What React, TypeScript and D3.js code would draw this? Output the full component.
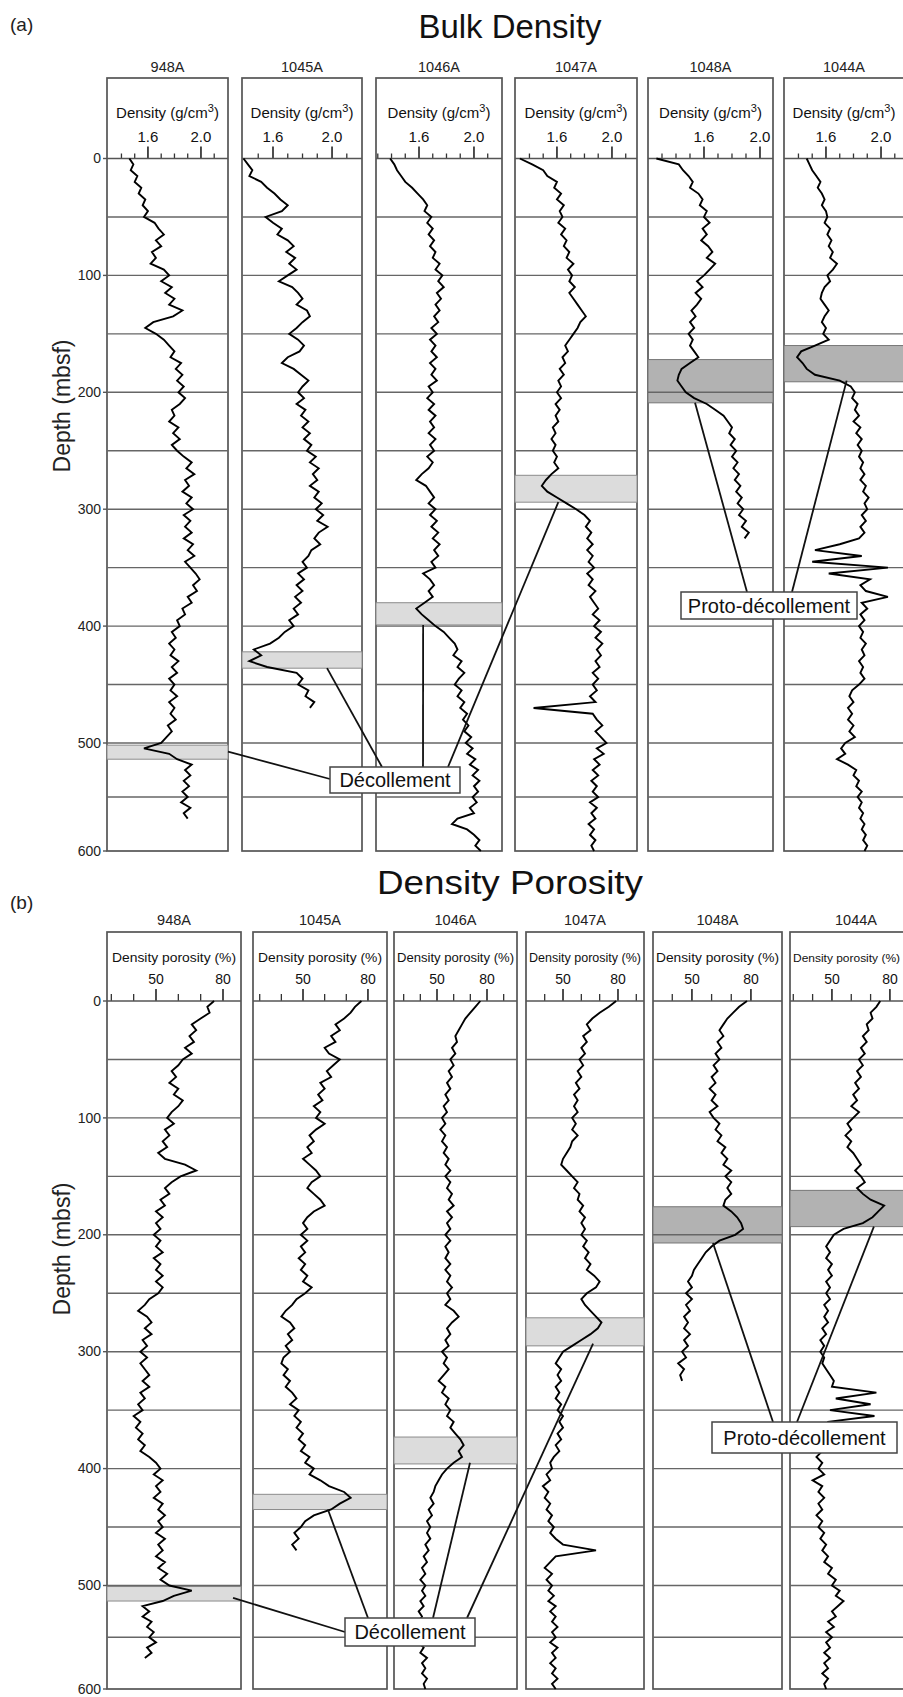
import React from 'react';
import * as d3 from 'd3';

const FONT = "'Liberation Sans', Arial, Helvetica, sans-serif";
const STEP = 5; // sampling interval of the digitised logs (m)
const VIEW_W = 903;

const STATIONS = ['948A', '1045A', '1046A', '1047A', '1048A', '1044A'];
const DEPTH_TICKS = [0, 100, 200, 300, 400, 500, 600];
const GRID_DEPTHS = [50, 100, 150, 200, 250, 300, 350, 400, 450, 500, 550];
const DEPTH_DOMAIN = [0, 500, 600];

const DENS_MAJOR = [1.6, 2.0];
const DENS_MINOR = [
  [1.4, 1.5, 1.7, 1.8, 1.9, 2.1],
  [1.5, 1.7, 1.8, 1.9, 2.1],
  [1.3, 1.4, 1.5, 1.7, 1.8, 1.9, 2.1],
  [1.4, 1.5, 1.7, 1.8, 1.9, 2.1],
  [1.3, 1.4, 1.5, 1.7, 1.8, 1.9],
  [1.4, 1.5, 1.7, 1.8, 1.9, 2.1],
];
const POR_MAJOR = [50, 80];
const POR_MINOR = [
  [30, 40, 60, 70],
  [30, 40, 60, 70],
  [30, 40, 60, 70, 90],
  [40, 60, 70, 90],
  [40, 60, 70],
  [30, 40, 60, 70],
];

// ---- Bulk density (g/cm3), one value every 5 m from 0 m ----
const DENS_948A = [
  1.46, 1.49, 1.47, 1.52, 1.50, 1.55, 1.53, 1.58, 1.56, 1.60,
  1.57, 1.65, 1.68, 1.72, 1.66, 1.70, 1.63, 1.66, 1.62, 1.72,
  1.76, 1.70, 1.78, 1.73, 1.80, 1.76, 1.86, 1.79, 1.64, 1.58,
  1.66, 1.72, 1.76, 1.80, 1.77, 1.85, 1.81, 1.86, 1.82, 1.87,
  1.83, 1.88, 1.84, 1.78, 1.80, 1.76, 1.83, 1.79, 1.84, 1.78,
  1.82, 1.87, 1.93, 1.89, 1.95, 1.88, 1.91, 1.86, 1.93, 1.89,
  1.94, 1.87, 1.92, 1.88, 1.93, 1.87, 1.94, 1.90, 1.95, 1.88,
  1.92, 1.96, 1.99, 1.94, 1.97, 1.90, 1.93, 1.86, 1.88, 1.82,
  1.84, 1.78, 1.81, 1.76, 1.80, 1.77, 1.83, 1.78, 1.82, 1.76,
  1.80, 1.77, 1.82, 1.76, 1.80, 1.77, 1.81, 1.75, 1.78, 1.74,
  1.70, 1.57, 1.76, 1.82, 1.93, 1.88, 1.92, 1.87, 1.91, 1.86,
  1.90, 1.85, 1.92, 1.87, 1.90,
];
const DENS_1045A = [
  1.40, 1.43, 1.46, 1.44, 1.52, 1.56, 1.61, 1.65, 1.70, 1.66,
  1.55, 1.60, 1.66, 1.63, 1.70, 1.74, 1.69, 1.75, 1.71, 1.76,
  1.70, 1.64, 1.73, 1.77, 1.80, 1.76, 1.83, 1.85, 1.80, 1.76,
  1.71, 1.77, 1.81, 1.78, 1.70, 1.66, 1.74, 1.79, 1.84, 1.80,
  1.77, 1.81, 1.76, 1.82, 1.79, 1.84, 1.80, 1.85, 1.81, 1.86,
  1.83, 1.89, 1.85, 1.91, 1.87, 1.90, 1.85, 1.91, 1.88, 1.93,
  1.89, 1.94, 1.90, 1.97, 1.91, 1.88, 1.92, 1.86, 1.84, 1.80,
  1.83, 1.77, 1.81, 1.76, 1.80, 1.75, 1.79, 1.74, 1.77, 1.71,
  1.74, 1.68, 1.64, 1.58, 1.47, 1.52, 1.44, 1.56, 1.76, 1.80,
  1.77, 1.84, 1.82, 1.88, 1.85,
];
const DENS_1046A = [
  1.39, 1.42, 1.44, 1.47, 1.50, 1.55, 1.59, 1.63, 1.66, 1.64,
  1.69, 1.66, 1.70, 1.67, 1.71, 1.68, 1.72, 1.70, 1.75, 1.72,
  1.77, 1.74, 1.78, 1.73, 1.76, 1.72, 1.75, 1.71, 1.74, 1.69,
  1.73, 1.68, 1.72, 1.69, 1.73, 1.68, 1.72, 1.69, 1.73, 1.67,
  1.70, 1.66, 1.71, 1.67, 1.72, 1.68, 1.71, 1.67, 1.72, 1.68,
  1.71, 1.66, 1.70, 1.67, 1.62, 1.58, 1.65, 1.68, 1.71, 1.67,
  1.72, 1.68, 1.73, 1.69, 1.74, 1.70, 1.75, 1.71, 1.74, 1.69,
  1.72, 1.63, 1.68, 1.71, 1.67, 1.70, 1.64, 1.58, 1.62, 1.67,
  1.72, 1.78, 1.82, 1.86, 1.88, 1.85, 1.91, 1.88, 1.93, 1.89,
  1.86, 1.91, 1.88, 1.93, 1.90, 1.95, 1.92, 1.96, 1.93, 1.98,
  1.94, 1.99, 1.95, 2.01, 1.97, 2.03, 1.99, 2.04, 2.00, 2.03,
  1.99, 2.02, 1.97, 2.00, 1.88, 1.84, 1.95, 2.00, 2.04, 2.01,
  2.05,
];
const DENS_1047A = [
  1.33, 1.42, 1.50, 1.53, 1.60, 1.58, 1.63, 1.60, 1.65, 1.62,
  1.64, 1.61, 1.66, 1.63, 1.67, 1.65, 1.69, 1.67, 1.72, 1.68,
  1.71, 1.69, 1.73, 1.69, 1.72, 1.75, 1.78, 1.81, 1.77, 1.75,
  1.72, 1.69, 1.66, 1.68, 1.64, 1.66, 1.62, 1.65, 1.61, 1.63,
  1.60, 1.63, 1.59, 1.62, 1.59, 1.61, 1.57, 1.59, 1.56, 1.59,
  1.57, 1.60, 1.58, 1.61, 1.56, 1.52, 1.49, 1.53, 1.60, 1.67,
  1.74, 1.80, 1.84, 1.81, 1.85, 1.82, 1.86, 1.82, 1.86, 1.83,
  1.87, 1.82, 1.86, 1.83, 1.88, 1.84, 1.87, 1.90, 1.86, 1.91,
  1.87, 1.92, 1.88, 1.93, 1.89, 1.92, 1.88, 1.91, 1.86, 1.90,
  1.86, 1.89, 1.84, 1.88, 1.43, 1.86, 1.89, 1.93, 1.88, 1.92,
  1.96, 1.89, 1.94, 1.87, 1.91, 1.86, 1.90, 1.85, 1.89, 1.86,
  1.90, 1.84, 1.89, 1.85, 1.88, 1.83, 1.87, 1.84, 1.88, 1.85,
  1.87,
];
const DENS_1048A = [
  1.26, 1.42, 1.45, 1.49, 1.52, 1.50, 1.56, 1.59, 1.57, 1.62,
  1.60, 1.64, 1.59, 1.62, 1.58, 1.63, 1.66, 1.62, 1.68, 1.64,
  1.60, 1.55, 1.59, 1.54, 1.58, 1.55, 1.51, 1.54, 1.50, 1.53,
  1.49, 1.52, 1.50, 1.53, 1.56, 1.50, 1.44, 1.42, 1.41, 1.44,
  1.47, 1.53, 1.62, 1.68, 1.74, 1.77, 1.80, 1.78, 1.82, 1.79,
  1.83, 1.80, 1.84, 1.81, 1.85, 1.82, 1.86, 1.83, 1.87, 1.84,
  1.88, 1.85, 1.90, 1.87, 1.92, 1.89,
];
const DENS_1044A = [
  1.46, 1.48, 1.50, 1.53, 1.56, 1.54, 1.57, 1.59, 1.57, 1.60,
  1.61, 1.59, 1.63, 1.61, 1.64, 1.62, 1.65, 1.63, 1.68, 1.65,
  1.61, 1.63, 1.59, 1.57, 1.56, 1.59, 1.62, 1.59, 1.57, 1.60,
  1.58, 1.62, 1.52, 1.42, 1.39, 1.43, 1.46, 1.52, 1.70, 1.78,
  1.81, 1.79, 1.83, 1.81, 1.84, 1.80, 1.85, 1.82, 1.86, 1.83,
  1.86, 1.84, 1.87, 1.85, 1.88, 1.85, 1.89, 1.87, 1.91, 1.88,
  1.90, 1.86, 1.89, 1.85, 1.88, 1.84, 1.70, 1.52, 1.86, 1.50,
  2.05, 1.62, 1.92, 1.85, 1.89, 2.05, 1.86, 1.90, 1.85, 1.88,
  1.84, 1.87, 1.85, 1.89, 1.86, 1.88, 1.84, 1.87, 1.85, 1.88,
  1.84, 1.79, 1.77, 1.80, 1.76, 1.79, 1.76, 1.80, 1.77, 1.81,
  1.74, 1.71, 1.74, 1.68, 1.76, 1.82, 1.80, 1.84, 1.82, 1.86,
  1.83, 1.86, 1.84, 1.87, 1.85, 1.88, 1.86, 1.89, 1.87, 1.90,
  1.88,
];

// ---- Density porosity (%), one value every 5 m from 0 m ----
const POR_948A = [
  76, 73, 74, 70, 66, 68, 65, 67, 63, 66,
  62, 60, 57, 59, 56, 60, 58, 62, 60, 57,
  55, 58, 54, 56, 53, 55, 51, 54, 63, 68,
  61, 57, 54, 56, 52, 54, 50, 53, 50, 52,
  49, 52, 50, 53, 49, 52, 50, 53, 50, 53,
  51, 47, 45, 42, 46, 48, 45, 48, 44, 46,
  43, 46, 43, 45, 47, 44, 47, 43, 45, 42,
  44, 40, 43, 41, 44, 42, 45, 43, 47, 50,
  52, 49, 53, 50, 52, 49, 53, 51, 54, 51,
  53, 50, 54, 51, 53, 50, 54, 51, 55, 52,
  56, 66, 58, 53, 44, 47, 44, 48, 46, 49,
  47, 50, 46, 48, 45,
];
const POR_1045A = [
  77, 74, 72, 69, 65, 67, 63, 65, 60, 62,
  67, 64, 61, 63, 58, 60, 57, 59, 55, 58,
  56, 60, 56, 53, 55, 52, 54, 50, 53, 56,
  58, 54, 52, 55, 58, 60, 55, 52, 50, 52,
  49, 52, 49, 51, 48, 51, 49, 52, 50, 54,
  51, 47, 45, 42, 40, 44, 46, 43, 45, 42,
  44, 41, 40, 43, 41, 44, 42, 45, 47, 44,
  48, 46, 49, 47, 50, 48, 51, 49, 53, 51,
  55, 53, 58, 62, 69, 72, 67, 63, 55, 51,
  49, 46, 48, 45, 47,
];
const POR_1046A = [
  76, 73, 70, 67, 65, 63, 61, 62, 59, 61,
  58, 60, 57, 59, 56, 58, 55, 57, 54, 56,
  53, 55, 52, 55, 53, 56, 54, 57, 55, 58,
  55, 58, 56, 59, 57, 60, 56, 59, 56, 58,
  55, 58, 55, 57, 55, 58, 55, 58, 56, 59,
  56, 58, 55, 60, 63, 59, 56, 58, 55, 57,
  53, 56, 54, 57, 54, 51, 55, 53, 57, 55,
  58, 56, 60, 58, 61, 64, 66, 63, 65, 60,
  56, 53, 51, 49, 48, 46, 48, 45, 47, 44,
  46, 44, 46, 43, 45, 42, 44, 41, 43, 40,
  43, 41, 43, 40, 42, 39, 41, 39, 42, 39,
  41, 39, 42, 40, 44, 41, 43, 41, 44, 42,
  43,
];
const POR_1047A = [
  79, 75, 70, 66, 63, 65, 61, 63, 60, 62,
  59, 61, 58, 60, 57, 59, 56, 58, 56, 58,
  55, 57, 55, 58, 55, 54, 52, 50, 49, 52,
  55, 58, 56, 59, 58, 61, 59, 62, 60, 62,
  60, 63, 61, 64, 62, 65, 63, 67, 70, 68,
  63, 60, 62, 65, 68, 71, 69, 65, 60, 55,
  50, 48, 46, 49, 47, 49, 46, 48, 46, 49,
  47, 50, 48, 50, 47, 49, 46, 48, 45, 43,
  44, 41, 43, 39, 42, 40, 43, 41, 44, 42,
  45, 43, 46, 50, 68, 46, 43, 40, 44, 41,
  44, 42, 45, 42, 46, 43, 46, 44, 47, 44,
  46, 43, 47, 44, 46, 43, 46, 44, 47, 44,
  46,
];
const POR_1048A = [
  78, 74, 71, 68, 66, 64, 66, 63, 65, 62,
  64, 61, 63, 60, 62, 59, 62, 60, 63, 59,
  61, 64, 62, 65, 63, 67, 65, 68, 66, 70,
  67, 70, 68, 70, 67, 66, 70, 73, 75, 76,
  72, 64, 60, 57, 55, 53, 51, 50, 48, 50,
  47, 50, 47, 49, 46, 48, 46, 49, 46, 48,
  45, 47, 43, 46, 44, 45,
];
const POR_1044A = [
  75, 73, 70, 71, 68, 69, 66, 68, 65, 67,
  64, 66, 63, 65, 62, 64, 61, 63, 60, 64,
  61, 58, 60, 57, 60, 58, 61, 63, 65, 62,
  65, 67, 63, 66, 70, 77, 74, 71, 66, 56,
  51, 49, 47, 49, 47, 50, 48, 50, 47, 49,
  47, 49, 46, 48, 46, 48, 45, 47, 44, 46,
  44, 46, 45, 47, 49, 51, 50, 73, 52, 70,
  49, 72, 48, 46, 44, 46, 43, 45, 42, 45,
  43, 46, 40, 45, 43, 46, 43, 45, 42, 45,
  43, 46, 44, 47, 45, 48, 46, 50, 48, 52,
  50, 54, 52, 56, 53, 50, 52, 48, 51, 47,
  50, 47, 49, 46, 49, 46, 48, 45, 48, 46,
  47,
];

const DENS_SERIES = [DENS_948A, DENS_1045A, DENS_1046A, DENS_1047A, DENS_1048A, DENS_1044A];
const POR_SERIES = [POR_948A, POR_1045A, POR_1046A, POR_1047A, POR_1048A, POR_1044A];

// décollement / proto-décollement intervals (m)
const DENS_BANDS = [[502, 515], [422, 436], [380, 399], [271, 294], [172, 209], [160, 191]];
const POR_BANDS = [[501, 515], [422, 435], [373, 396], [271, 295], [176, 207], [162, 193]];
const BAND_DARK = [false, false, false, false, true, true];

type Leader = { panel: number; value: number; depth: number; to: [number, number] };
type Callout = { text: string; box: [number, number, number, number]; leaders: Leader[] };

const CALLOUTS_A: Callout[] = [
  {
    text: 'Décollement', box: [330, 767, 130, 26],
    leaders: [
      { panel: 0, value: 2.204, depth: 508, to: [330, 779] },
      { panel: 1, value: 1.966, depth: 436, to: [382, 767] },
      { panel: 2, value: 1.63, depth: 399, to: [423, 767] },
      { panel: 3, value: 1.61, depth: 294, to: [448, 767] },
    ],
  },
  {
    text: 'Proto-décollement', box: [681, 592, 176, 27],
    leaders: [
      { panel: 4, value: 1.536, depth: 209, to: [747, 592] },
      { panel: 5, value: 1.75, depth: 190, to: [792, 592] },
    ],
  },
];
const CALLOUTS_B: Callout[] = [
  {
    text: 'Décollement', box: [345, 1618, 130, 28],
    leaders: [
      { panel: 0, value: 84.5, depth: 512, to: [345, 1632] },
      { panel: 1, value: 61.5, depth: 435, to: [368, 1618] },
      { panel: 2, value: 69.8, depth: 395, to: [433, 1618] },
      { panel: 3, value: 66.4, depth: 293, to: [467, 1618] },
    ],
  },
  {
    text: 'Proto-décollement', box: [712, 1422, 185, 31],
    leaders: [
      { panel: 4, value: 60.7, depth: 207, to: [773, 1422] },
      { panel: 5, value: 71.7, depth: 193, to: [797, 1422] },
    ],
  },
];

const PARTS = [
  {
    tag: '(a)', tagY: 31, title: 'Bulk Density', titleY: 38, titleLen: 183, titleSize: 33,
    stationY: 72, frameTop: 78, axisLabelY: 118, tickLabelY: 142, depthLabelCY: 406,
    yRange: [158.5, 743, 851],
    frames: [[107, 228], [242, 362], [376, 502], [515, 637], [648, 773], [784, 904]],
    domains: [[1.291, 2.204], [1.39, 2.203], [1.287, 2.204], [1.295, 2.182], [1.2, 2.093], [1.295, 2.167]],
    series: DENS_SERIES, major: DENS_MAJOR, minor: DENS_MINOR, bands: DENS_BANDS,
    fmt: d3.format('.1f'), kind: 'dens', callouts: CALLOUTS_A, tickFont: 15,
  },
  {
    tag: '(b)', tagY: 909, title: 'Density Porosity', titleY: 894, titleLen: 266, titleSize: 34,
    stationY: 925, frameTop: 932, axisLabelY: 962, tickLabelY: 984, depthLabelCY: 1249,
    yRange: [1001, 1585.5, 1689],
    frames: [[107, 241], [253, 387], [394, 517], [526, 644], [653, 782], [790, 922]],
    domains: [[28.06, 88.06], [26.9, 88.8], [24.2, 98.0], [29.8, 94.2], [30.2, 95.8], [28.3, 96.6]],
    series: POR_SERIES, major: POR_MAJOR, minor: POR_MINOR, bands: POR_BANDS,
    fmt: d3.format('d'), kind: 'por', callouts: CALLOUTS_B, tickFont: 14,
  },
];

function Part({ p }: { p: any }) {
  const y = d3.scaleLinear().domain(DEPTH_DOMAIN).range(p.yRange);
  const xs = p.frames.map((f: number[], i: number) =>
    d3.scaleLinear().domain(p.domains[i]).range(f));
  const y0 = y(0);
  const yBottom = y(600);
  return (
    <g fontFamily={FONT}>
      <text x={10} y={p.tagY} fontSize={19} fill="#222">{p.tag}</text>
      <text x={510} y={p.titleY} fontSize={p.titleSize} textAnchor="middle" fill="#111"
        textLength={p.titleLen} lengthAdjust="spacingAndGlyphs">{p.title}</text>

      {/* depth axis */}
      <text transform={`translate(70,${p.depthLabelCY}) rotate(-90)`} fontSize={23}
        textAnchor="middle" fill="#222">Depth (mbsf)</text>
      {DEPTH_TICKS.map((d) => (
        <g key={d}>
          <text x={101} y={y(d)} dy="0.33em" fontSize={14} textAnchor="end" fill="#222">{d}</text>
          <line x1={p.frames[0][0] - 4} x2={p.frames[0][0]} y1={y(d)} y2={y(d)} stroke="#555" strokeWidth={1.4} />
        </g>
      ))}

      {p.frames.map((f: number[], i: number) => {
        const x = xs[i];
        const [x0, x1] = f;
        const cx = (x0 + x1) / 2;
        const visRight = Math.min(x1, VIEW_W);
        const labelCx = (x0 + visRight) / 2;
        const visW = visRight - x0;
        const labelLen = Math.min(124, visW - 6);
        const labelSize = Math.min(14, labelLen / 9.3);
        const band = p.bands[i];
        const line = d3.line<number>().x((v) => x(v)).y((_, k) => y(k * STEP));
        const w = x1 - x0;
        return (
          <g key={STATIONS[i]}>
            <text x={cx} y={p.stationY} fontSize={14.5} textAnchor="middle" fill="#222">{STATIONS[i]}</text>
            <rect x={x0} y={p.frameTop} width={w} height={yBottom - p.frameTop}
              fill="white" stroke="#555" strokeWidth={1.7} />
            {p.kind === 'dens' ? (
              <text x={cx} y={p.axisLabelY} fontSize={15} textAnchor="middle" fill="#111">
                Density (g/cm<tspan dy={-6} fontSize={11}>3</tspan><tspan dy={6}>)</tspan>
              </text>
            ) : (
              <text x={labelCx} y={p.axisLabelY} fontSize={labelSize} textAnchor="middle" fill="#111"
                textLength={labelLen} lengthAdjust="spacingAndGlyphs">Density porosity (%)</text>
            )}
            {p.minor[i].map((t: number) => (
              <line key={'m' + t} x1={x(t)} x2={x(t)} y1={y0} y2={y0 - (p.kind === 'dens' ? 5 : 7)}
                stroke="#333" strokeWidth={1.3} />
            ))}
            {p.major.map((t: number) => (
              <g key={'M' + t}>
                <line x1={x(t)} x2={x(t)} y1={y0} y2={y0 - 12} stroke="#222" strokeWidth={1.6} />
                <text x={x(t)} y={p.tickLabelY} fontSize={p.tickFont} textAnchor="middle" fill="#111">{p.fmt(t)}</text>
              </g>
            ))}
            <line x1={x0} x2={x1} y1={y0} y2={y0} stroke="#555" strokeWidth={1.7} />
            <rect x={x0} y={y(band[0])} width={w} height={y(band[1]) - y(band[0])}
              fill={BAND_DARK[i] ? '#b2b2b2' : '#dcdcdc'} stroke={BAND_DARK[i] ? '#777' : '#8c8c8c'} strokeWidth={1} />
            {GRID_DEPTHS.map((d) => (
              <line key={'g' + d} x1={x0} x2={x1} y1={y(d)} y2={y(d)} stroke="#666" strokeWidth={1.4} />
            ))}
            <path d={line(p.series[i]) || ''} fill="none" stroke="#000" strokeWidth={1.9} strokeLinejoin="miter" strokeMiterlimit={3} />
          </g>
        );
      })}

      {p.callouts.map((c: Callout) => (
        <g key={c.text}>
          {c.leaders.map((l, k) => (
            <line key={k} x1={xs[l.panel](l.value)} y1={y(l.depth)} x2={l.to[0]} y2={l.to[1]}
              stroke="#111" strokeWidth={1.8} />
          ))}
          <rect x={c.box[0]} y={c.box[1]} width={c.box[2]} height={c.box[3]} fill="white" stroke="#444" strokeWidth={1.5} />
          <text x={c.box[0] + c.box[2] / 2} y={c.box[1] + c.box[3] / 2} dy="0.36em" fontSize={20}
            textAnchor="middle" fill="#111">{c.text}</text>
        </g>
      ))}
    </g>
  );
}

export default function App() {
  return (
    <svg width={903} height={1697} viewBox="0 0 903 1697"
      style={{ position: 'absolute', left: 0, top: 0, background: 'white' }}>
      <rect x={0} y={0} width={903} height={1697} fill="white" />
      {PARTS.map((p) => <Part key={p.tag} p={p} />)}
    </svg>
  );
}
